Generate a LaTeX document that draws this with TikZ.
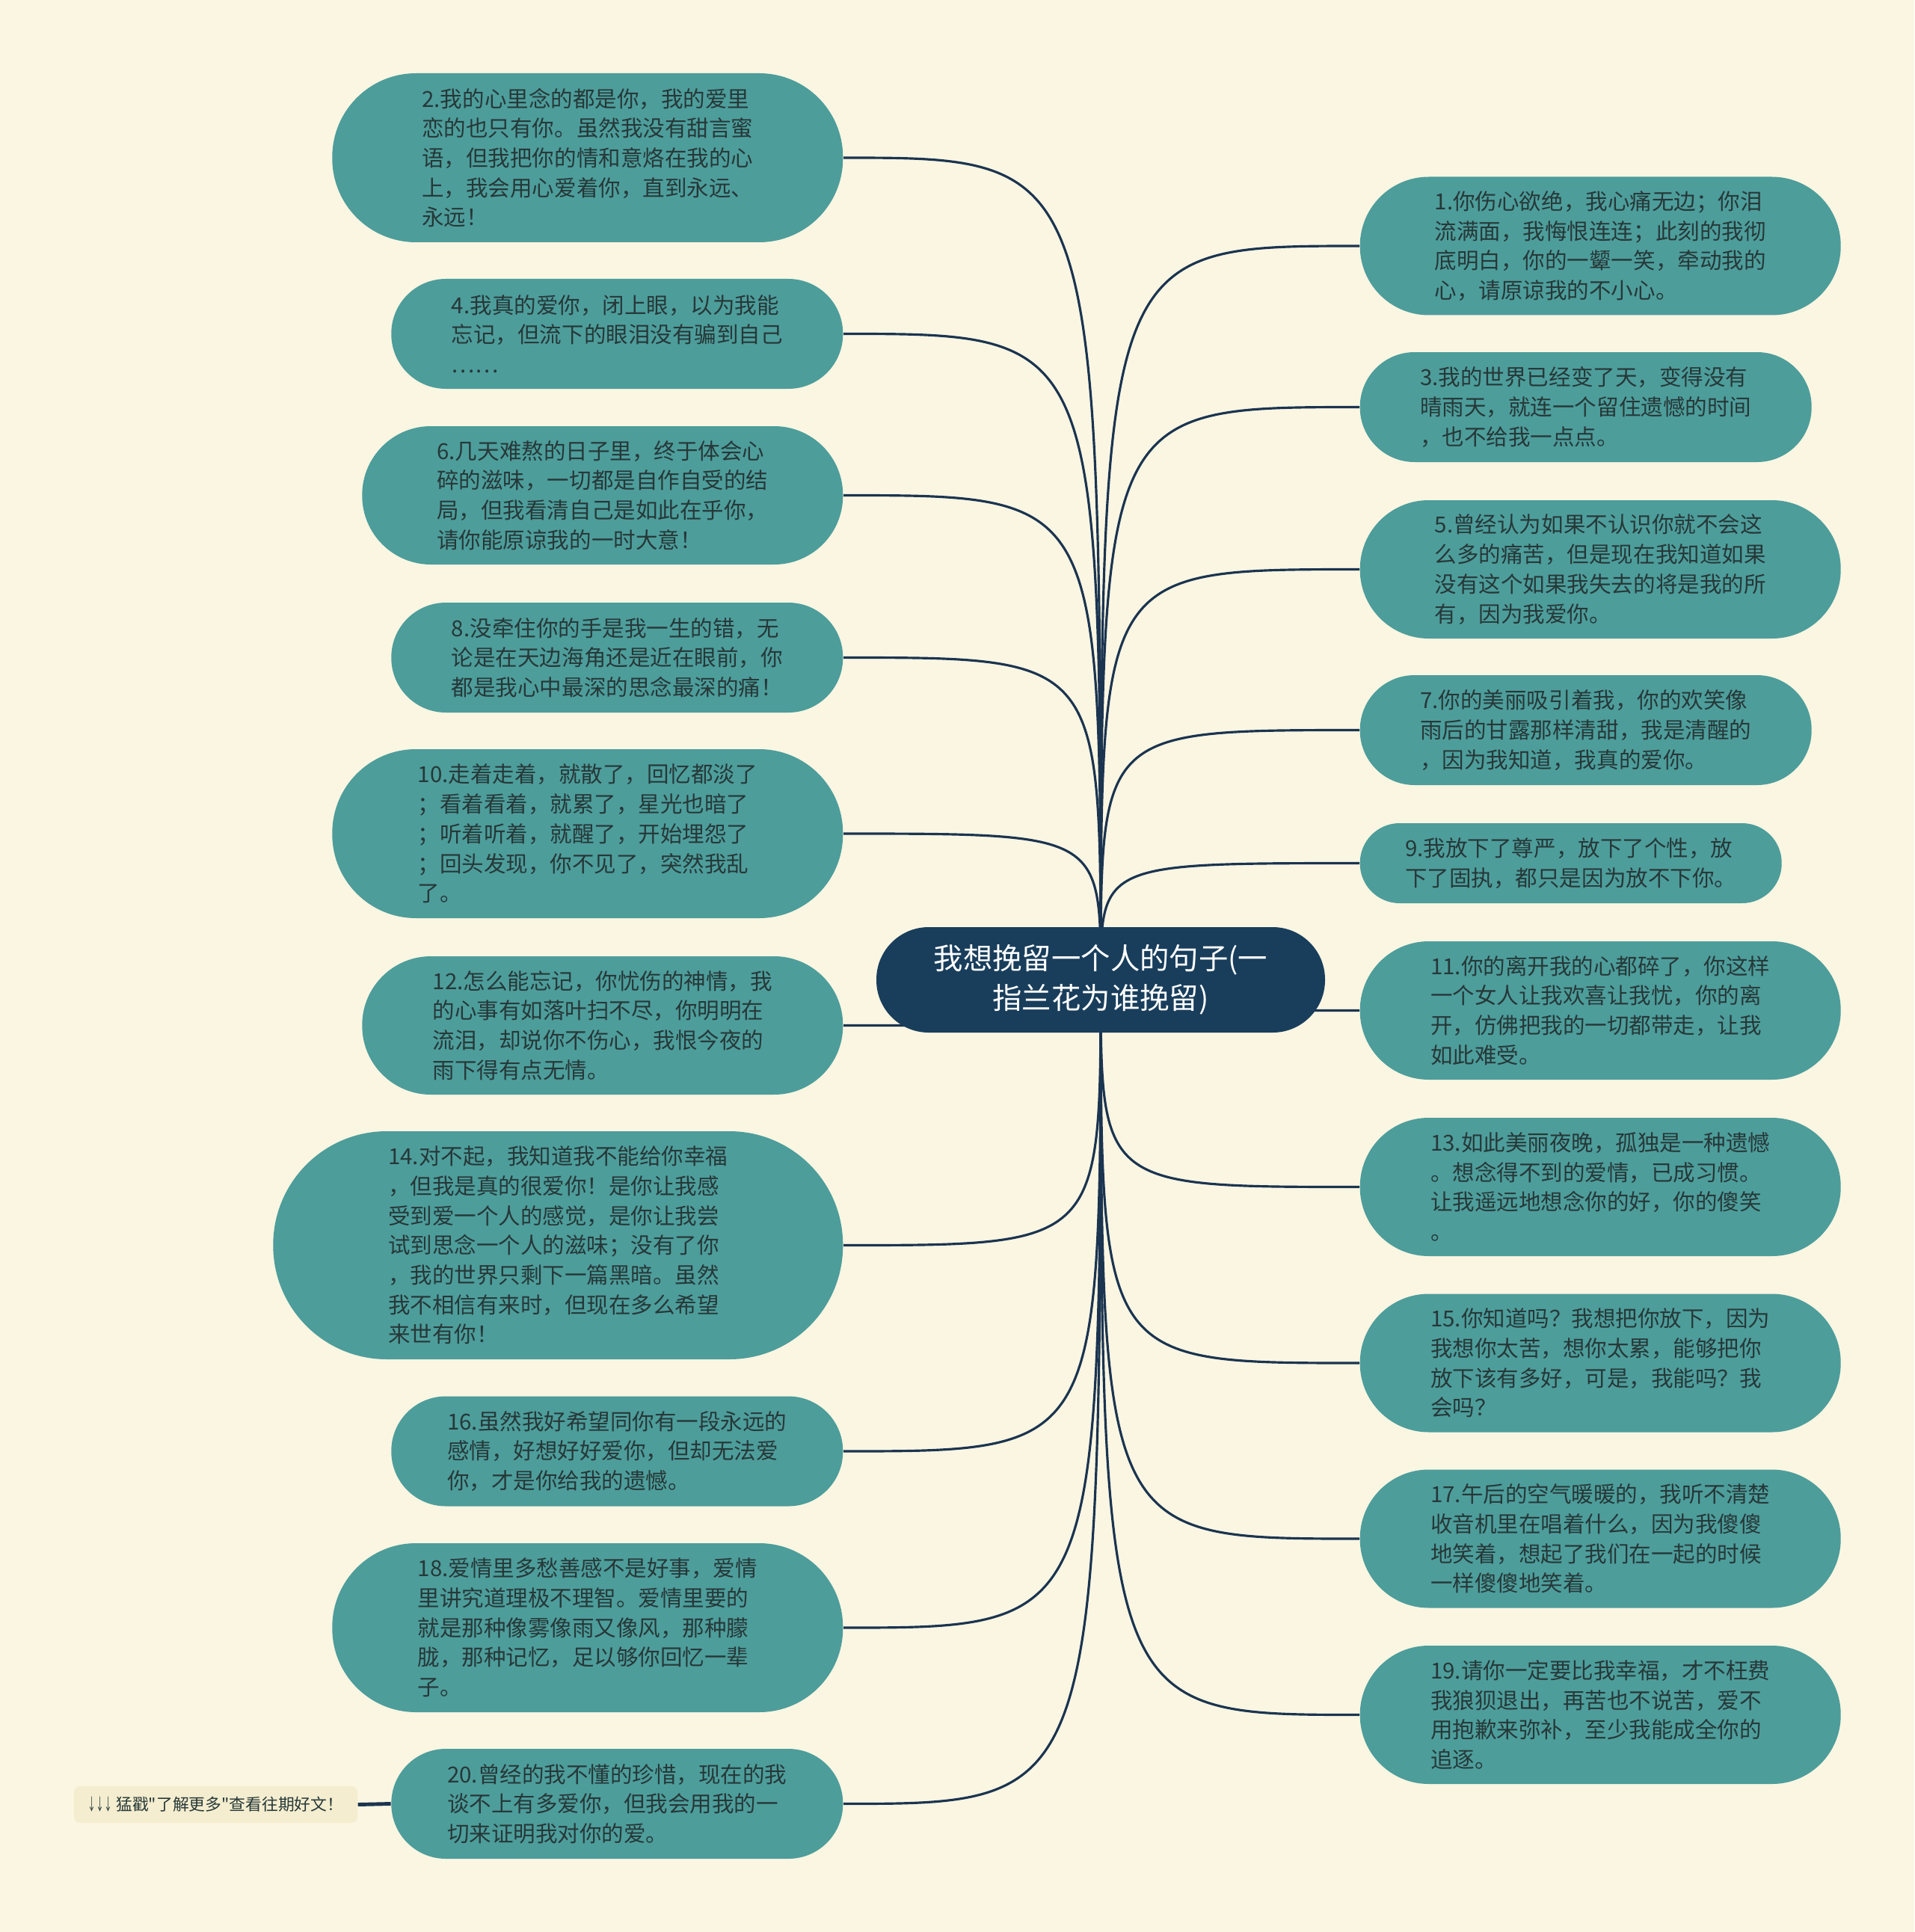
\documentclass[tikz,border=0pt]{standalone}
\usepackage{fontspec}
\newfontfamily\cjk{Noto Sans CJK SC}
\usetikzlibrary{positioning}

\definecolor{paper}{HTML}{FAF6E2}
\definecolor{leafteal}{HTML}{4D9D9B}
\definecolor{rootnavy}{HTML}{193E5C}
\definecolor{linknavy}{HTML}{1B3450}
\definecolor{leaftext}{HTML}{263838}
\definecolor{notefill}{HTML}{F4EDCF}

\pgfdeclarelayer{bg}
\pgfsetlayers{bg,main}

\begin{document}
\begin{tikzpicture}

  % Define styles
  \tikzstyle{root} = [rectangle, fill=rootnavy, text=white, align=center, minimum width=6cm, minimum height=1.41cm, rounded corners=0.7cm, inner sep=0pt, font=\cjk\fontsize{11.2}{15}\selectfont]
  \tikzstyle{leaf} = [rectangle, fill=leafteal, text=leaftext, align=left, inner sep=0pt, font=\cjk\fontsize{8.4}{11.3}\selectfont]
  \tikzstyle{twoline} = [minimum height=1.07cm, rounded corners=0.53cm]
  \tikzstyle{threeline} = [minimum height=1.47cm, rounded corners=0.73cm]
  \tikzstyle{fourline} = [minimum height=1.85cm, rounded corners=0.92cm]
  \tikzstyle{fiveline} = [minimum height=2.26cm, rounded corners=1.12cm]
  \tikzstyle{sevenline} = [minimum height=3.05cm, rounded corners=1.52cm]
  \tikzstyle{note} = [rectangle, fill=notefill, text=leaftext, rounded corners=0.08cm, minimum width=3.79cm, minimum height=0.49cm, inner sep=0pt, font=\cjk\fontsize{6.2}{8}\selectfont]
  \tikzstyle{branch} = [draw=linknavy, line width=0.9pt]

  \useasboundingbox (0,0) rectangle (25.6,-25.84);

  % Root
  \node[root] (root) at (14.72,-13.105) {我想挽留一个人的句子(一\\指兰花为谁挽留)};

  % Left side
  \node[leaf, fiveline, minimum width=6.83cm, anchor=east] (n2) at (11.28,-2.11) {2.我的心里念的都是你，我的爱里\\恋的也只有你。虽然我没有甜言蜜\\语，但我把你的情和意烙在我的心\\上，我会用心爱着你，直到永远、\\永远！};
  \node[leaf, threeline, minimum width=6.04cm, anchor=east] (n4) at (11.28,-4.465) {4.我真的爱你，闭上眼，以为我能\\忘记，但流下的眼泪没有骗到自己\\……};
  \node[leaf, fourline, minimum width=6.43cm, anchor=east] (n6) at (11.28,-6.625) {6.几天难熬的日子里，终于体会心\\碎的滋味，一切都是自作自受的结\\局，但我看清自己是如此在乎你，\\请你能原谅我的一时大意！};
  \node[leaf, threeline, minimum width=6.04cm, anchor=east] (n8) at (11.28,-8.795) {8.没牵住你的手是我一生的错，无\\论是在天边海角还是近在眼前，你\\都是我心中最深的思念最深的痛！};
  \node[leaf, fiveline, minimum width=6.83cm, anchor=east] (n10) at (11.28,-11.15) {10.走着走着，就散了，回忆都淡了\\；看着看着，就累了，星光也暗了\\；听着听着，就醒了，开始埋怨了\\；回头发现，你不见了，突然我乱\\了。};
  \node[leaf, fourline, minimum width=6.43cm, anchor=east] (n12) at (11.28,-13.715) {12.怎么能忘记，你忧伤的神情，我\\的心事有如落叶扫不尽，你明明在\\流泪，却说你不伤心，我恨今夜的\\雨下得有点无情。};
  \node[leaf, sevenline, minimum width=7.62cm, anchor=east] (n14) at (11.28,-16.655) {14.对不起，我知道我不能给你幸福\\，但我是真的很爱你！是你让我感\\受到爱一个人的感觉，是你让我尝\\试到思念一个人的滋味；没有了你\\，我的世界只剩下一篇黑暗。虽然\\我不相信有来时，但现在多么希望\\来世有你！};
  \node[leaf, threeline, minimum width=6.04cm, anchor=east] (n16) at (11.28,-19.41) {16.虽然我好希望同你有一段永远的\\感情，好想好好爱你，但却无法爱\\你，才是你给我的遗憾。};
  \node[leaf, fiveline, minimum width=6.83cm, anchor=east] (n18) at (11.28,-21.77) {18.爱情里多愁善感不是好事，爱情\\里讲究道理极不理智。爱情里要的\\就是那种像雾像雨又像风，那种朦\\胧，那种记忆，足以够你回忆一辈\\子。};
  \node[leaf, threeline, minimum width=6.04cm, anchor=east] (n20) at (11.28,-24.125) {20.曾经的我不懂的珍惜，现在的我\\谈不上有多爱你，但我会用我的一\\切来证明我对你的爱。};

  \node[note] (more) at (2.885,-24.135) {\scalebox{0.5}[1]{↓↓↓} 猛戳"了解更多"查看往期好文！};

  % Right side
  \node[leaf, fourline, minimum width=6.43cm, anchor=west] (n1) at (18.18,-3.29) {1.你伤心欲绝，我心痛无边；你泪\\流满面，我悔恨连连；此刻的我彻\\底明白，你的一颦一笑，牵动我的\\心，请原谅我的不小心。};
  \node[leaf, threeline, minimum width=6.04cm, anchor=west] (n3) at (18.18,-5.445) {3.我的世界已经变了天，变得没有\\晴雨天，就连一个留住遗憾的时间\\，也不给我一点点。};
  \node[leaf, fourline, minimum width=6.43cm, anchor=west] (n5) at (18.18,-7.615) {5.曾经认为如果不认识你就不会这\\么多的痛苦，但是现在我知道如果\\没有这个如果我失去的将是我的所\\有，因为我爱你。};
  \node[leaf, threeline, minimum width=6.04cm, anchor=west] (n7) at (18.18,-9.765) {7.你的美丽吸引着我，你的欢笑像\\雨后的甘露那样清甜，我是清醒的\\，因为我知道，我真的爱你。};
  \node[leaf, twoline, minimum width=5.64cm, anchor=west] (n9) at (18.18,-11.545) {9.我放下了尊严，放下了个性，放\\下了固执，都只是因为放不下你。};
  \node[leaf, fourline, minimum width=6.43cm, anchor=west] (n11) at (18.18,-13.515) {11.你的离开我的心都碎了，你这样\\一个女人让我欢喜让我忧，你的离\\开，仿佛把我的一切都带走，让我\\如此难受。};
  \node[leaf, fourline, minimum width=6.43cm, anchor=west] (n13) at (18.18,-15.875) {13.如此美丽夜晚，孤独是一种遗憾\\。想念得不到的爱情，已成习惯。\\让我遥远地想念你的好，你的傻笑\\。};
  \node[leaf, fourline, minimum width=6.43cm, anchor=west] (n15) at (18.18,-18.23) {15.你知道吗？我想把你放下，因为\\我想你太苦，想你太累，能够把你\\放下该有多好，可是，我能吗？我\\会吗？};
  \node[leaf, fourline, minimum width=6.43cm, anchor=west] (n17) at (18.18,-20.58) {17.午后的空气暖暖的，我听不清楚\\收音机里在唱着什么，因为我傻傻\\地笑着，想起了我们在一起的时候\\一样傻傻地笑着。};
  \node[leaf, fourline, minimum width=6.43cm, anchor=west] (n19) at (18.18,-22.935) {19.请你一定要比我幸福，才不枉费\\我狼狈退出，再苦也不说苦，爱不\\用抱歉来弥补，至少我能成全你的\\追逐。};

  % Branches (behind the nodes)
  \begin{pgfonlayer}{bg}
    \fill[paper] (0,0) rectangle (25.6,-25.84);

    \draw[branch] (root.center) .. controls (root.center |- n2.east) .. (n2.east);
    \draw[branch] (root.center) .. controls (root.center |- n4.east) .. (n4.east);
    \draw[branch] (root.center) .. controls (root.center |- n6.east) .. (n6.east);
    \draw[branch] (root.center) .. controls (root.center |- n8.east) .. (n8.east);
    \draw[branch] (root.center) .. controls (root.center |- n10.east) .. (n10.east);
    \draw[branch] (root.center) .. controls (root.center |- n12.east) .. (n12.east);
    \draw[branch] (root.center) .. controls (root.center |- n14.east) .. (n14.east);
    \draw[branch] (root.center) .. controls (root.center |- n16.east) .. (n16.east);
    \draw[branch] (root.center) .. controls (root.center |- n18.east) .. (n18.east);
    \draw[branch] (root.center) .. controls (root.center |- n20.east) .. (n20.east);

    \draw[branch] (root.center) .. controls (root.center |- n1.west) .. (n1.west);
    \draw[branch] (root.center) .. controls (root.center |- n3.west) .. (n3.west);
    \draw[branch] (root.center) .. controls (root.center |- n5.west) .. (n5.west);
    \draw[branch] (root.center) .. controls (root.center |- n7.west) .. (n7.west);
    \draw[branch] (root.center) .. controls (root.center |- n9.west) .. (n9.west);
    \draw[branch] (root.center) .. controls (root.center |- n11.west) .. (n11.west);
    \draw[branch] (root.center) .. controls (root.center |- n13.west) .. (n13.west);
    \draw[branch] (root.center) .. controls (root.center |- n15.west) .. (n15.west);
    \draw[branch] (root.center) .. controls (root.center |- n17.west) .. (n17.west);
    \draw[branch] (root.center) .. controls (root.center |- n19.west) .. (n19.west);

    \draw[branch, line width=1.4pt] (more.east) -- (n20.west);
  \end{pgfonlayer}

\end{tikzpicture}
\end{document}
